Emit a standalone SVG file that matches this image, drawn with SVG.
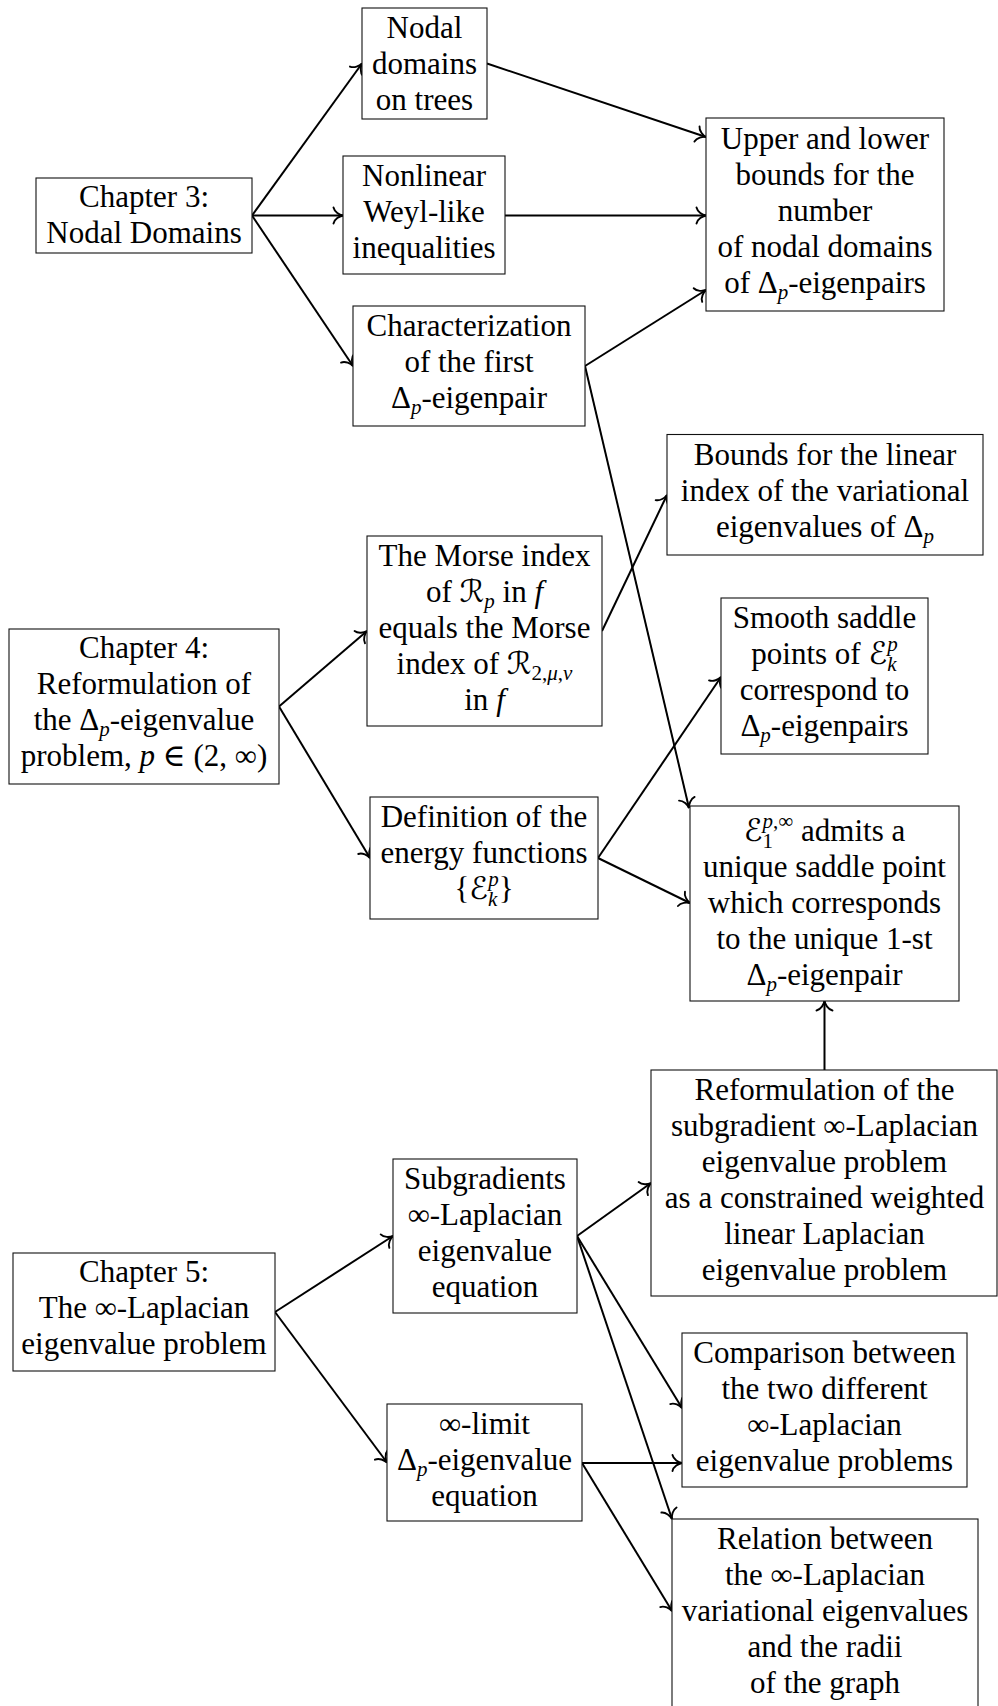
<svg xmlns="http://www.w3.org/2000/svg" width="998" height="1706" viewBox="0 0 998 1706">
<defs>
<style>
.box{fill:#fff;stroke:#111;stroke-width:1.1}
.t{font-family:"Liberation Serif","DejaVu Serif","DejaVu Sans",serif;font-size:31px;fill:#000;text-anchor:middle}
.m{font-style:italic}
.s{font-size:21px}
.e{stroke:#000;stroke-width:2;fill:none;marker-end:url(#arr)}
</style>
<marker id="arr" markerUnits="userSpaceOnUse" viewBox="-12 -12 14 24" refX="0" refY="0" markerWidth="14" markerHeight="24" orient="auto" overflow="visible">
<path d="M -9.5 -8 C -8.5 -3.5 -3.5 -0.7 0 0 C -3.5 0.7 -8.5 3.5 -9.5 8" fill="none" stroke="#000" stroke-width="1.9" stroke-linecap="round"/>
</marker>
</defs>
<rect width="998" height="1706" fill="#fff"/>

<g id="connectors">
<line class="e" x1="252" y1="215.5" x2="362" y2="63.5"/>
<line class="e" x1="252" y1="215.5" x2="343" y2="215.5"/>
<line class="e" x1="252" y1="215.5" x2="353" y2="366"/>
<line class="e" x1="487" y1="63.5" x2="706" y2="137"/>
<line class="e" x1="505" y1="215.5" x2="706" y2="215.5"/>
<line class="e" x1="585" y1="366" x2="706" y2="290"/>
<line class="e" x1="585" y1="366" x2="689" y2="808"/>
<line class="e" x1="279" y1="706.5" x2="367" y2="631"/>
<line class="e" x1="279" y1="706.5" x2="370" y2="858"/>
<line class="e" x1="602" y1="631" x2="667" y2="495"/>
<line class="e" x1="598" y1="858" x2="721" y2="677"/>
<line class="e" x1="598" y1="858" x2="690" y2="903"/>
<line class="e" x1="824.5" y1="1070" x2="824.5" y2="1001"/>
<line class="e" x1="275" y1="1312" x2="393" y2="1236"/>
<line class="e" x1="275" y1="1312" x2="387" y2="1462.5"/>
<line class="e" x1="577" y1="1236" x2="651" y2="1183"/>
<line class="e" x1="577" y1="1236" x2="682" y2="1408"/>
<line class="e" x1="577" y1="1236" x2="672" y2="1519"/>
<line class="e" x1="582" y1="1463" x2="682" y2="1463"/>
<line class="e" x1="582" y1="1463" x2="672" y2="1611"/>
</g>

<g id="ch3">
<rect class="box" x="36" y="178" width="216" height="75"/>
<text class="t" x="144" y="207">Chapter 3:</text>
<text class="t" x="144" y="243">Nodal Domains</text>
</g>

<g id="nodal">
<rect class="box" x="362" y="8" width="125" height="111"/>
<text class="t" x="424.5" y="38">Nodal</text>
<text class="t" x="424.5" y="74">domains</text>
<text class="t" x="424.5" y="110">on trees</text>
</g>

<g id="weyl">
<rect class="box" x="343" y="156" width="162" height="118"/>
<text class="t" x="424" y="186">Nonlinear</text>
<text class="t" x="424" y="222">Weyl-like</text>
<text class="t" x="424" y="258">inequalities</text>
</g>

<g id="charact">
<rect class="box" x="353" y="306" width="232" height="120"/>
<text class="t" x="469" y="336">Characterization</text>
<text class="t" x="469" y="372">of the first</text>
<text class="t" x="469" y="408">Δ<tspan class="m s" dy="6">p</tspan><tspan dy="-6">-eigenpair</tspan></text>
</g>

<g id="upper">
<rect class="box" x="706" y="118" width="238" height="193"/>
<text class="t" x="825" y="149">Upper and lower</text>
<text class="t" x="825" y="185">bounds for the</text>
<text class="t" x="825" y="221">number</text>
<text class="t" x="825" y="257">of nodal domains</text>
<text class="t" x="825" y="293">of Δ<tspan class="m s" dy="6">p</tspan><tspan dy="-6">-eigenpairs</tspan></text>
</g>

<g id="ch4">
<rect class="box" x="9" y="629" width="270" height="155"/>
<text class="t" x="144" y="658">Chapter 4:</text>
<text class="t" x="144" y="694">Reformulation of</text>
<text class="t" x="144" y="730">the Δ<tspan class="m s" dy="6">p</tspan><tspan dy="-6">-eigenvalue</tspan></text>
<text class="t" x="144" y="766">problem, <tspan class="m">p</tspan> ∈ (2, ∞)</text>
</g>

<g id="morse">
<rect class="box" x="367" y="536" width="235" height="190"/>
<text class="t" x="484.5" y="566">The Morse index</text>
<text class="t" x="484.5" y="602">of ℛ<tspan class="m s" dy="6">p</tspan><tspan dy="-6"> in </tspan><tspan class="m">f</tspan></text>
<text class="t" x="484.5" y="638">equals the Morse</text>
<text class="t" x="484.5" y="674">index of ℛ<tspan class="s" dy="6">2,</tspan><tspan class="m s">μ</tspan><tspan class="s">,</tspan><tspan class="m s">ν</tspan></text>
<text class="t" x="484.5" y="710">in <tspan class="m">f</tspan></text>
</g>

<g id="defn">
<rect class="box" x="370" y="797" width="228" height="122"/>
<text class="t" x="484" y="827">Definition of the</text>
<text class="t" x="484" y="863">energy functions</text>
<text class="t" x="484" y="899">{ℰ<tspan class="m s" dy="7">k</tspan><tspan class="m s" dx="-9.3" dy="-20">p</tspan><tspan dy="13">}</tspan></text>
</g>

<g id="bounds">
<rect class="box" x="667" y="434.5" width="316" height="120.5"/>
<text class="t" x="825" y="465">Bounds for the linear</text>
<text class="t" x="825" y="501">index of the variational</text>
<text class="t" x="825" y="537">eigenvalues of Δ<tspan class="m s" dy="6">p</tspan></text>
</g>

<g id="smooth">
<rect class="box" x="721" y="598" width="207" height="156"/>
<text class="t" x="824.5" y="628">Smooth saddle</text>
<text class="t" x="824.5" y="664">points of ℰ<tspan class="m s" dy="7">k</tspan><tspan class="m s" dx="-9.3" dy="-20">p</tspan></text>
<text class="t" x="824.5" y="700">correspond to</text>
<text class="t" x="824.5" y="736">Δ<tspan class="m s" dy="6">p</tspan><tspan dy="-6">-eigenpairs</tspan></text>
</g>

<g id="e1">
<rect class="box" x="690" y="806" width="269" height="195"/>
<text class="t" x="824.5" y="841">ℰ<tspan class="s" dy="7">1</tspan><tspan class="m s" dx="-10.5" dy="-20">p</tspan><tspan class="s">,∞</tspan><tspan dy="13"> admits a</tspan></text>
<text class="t" x="824.5" y="877">unique saddle point</text>
<text class="t" x="824.5" y="913">which corresponds</text>
<text class="t" x="824.5" y="949">to the unique 1-st</text>
<text class="t" x="824.5" y="985">Δ<tspan class="m s" dy="6">p</tspan><tspan dy="-6">-eigenpair</tspan></text>
</g>

<g id="ch5">
<rect class="box" x="13" y="1253" width="262" height="118"/>
<text class="t" x="144" y="1282">Chapter 5:</text>
<text class="t" x="144" y="1318">The ∞-Laplacian</text>
<text class="t" x="144" y="1354">eigenvalue problem</text>
</g>

<g id="subgrad">
<rect class="box" x="393" y="1159" width="184" height="154"/>
<text class="t" x="485" y="1189">Subgradients</text>
<text class="t" x="485" y="1225">∞-Laplacian</text>
<text class="t" x="485" y="1261">eigenvalue</text>
<text class="t" x="485" y="1297">equation</text>
</g>

<g id="inflimit">
<rect class="box" x="387" y="1404" width="195" height="117"/>
<text class="t" x="484.5" y="1434">∞-limit</text>
<text class="t" x="484.5" y="1470">Δ<tspan class="m s" dy="6">p</tspan><tspan dy="-6">-eigenvalue</tspan></text>
<text class="t" x="484.5" y="1506">equation</text>
</g>

<g id="reform">
<rect class="box" x="651" y="1070" width="346" height="226"/>
<text class="t" x="824.5" y="1100">Reformulation of the</text>
<text class="t" x="824.5" y="1136">subgradient ∞-Laplacian</text>
<text class="t" x="824.5" y="1172">eigenvalue problem</text>
<text class="t" x="824.5" y="1208">as a constrained weighted</text>
<text class="t" x="824.5" y="1244">linear Laplacian</text>
<text class="t" x="824.5" y="1280">eigenvalue problem</text>
</g>

<g id="compar">
<rect class="box" x="682" y="1333" width="285" height="154"/>
<text class="t" x="824.5" y="1363">Comparison between</text>
<text class="t" x="824.5" y="1399">the two different</text>
<text class="t" x="824.5" y="1435">∞-Laplacian</text>
<text class="t" x="824.5" y="1471">eigenvalue problems</text>
</g>

<g id="relation">
<rect class="box" x="672" y="1519" width="306" height="190"/>
<text class="t" x="825" y="1549">Relation between</text>
<text class="t" x="825" y="1585">the ∞-Laplacian</text>
<text class="t" x="825" y="1621">variational eigenvalues</text>
<text class="t" x="825" y="1657">and the radii</text>
<text class="t" x="825" y="1693">of the graph</text>
</g>
</svg>
